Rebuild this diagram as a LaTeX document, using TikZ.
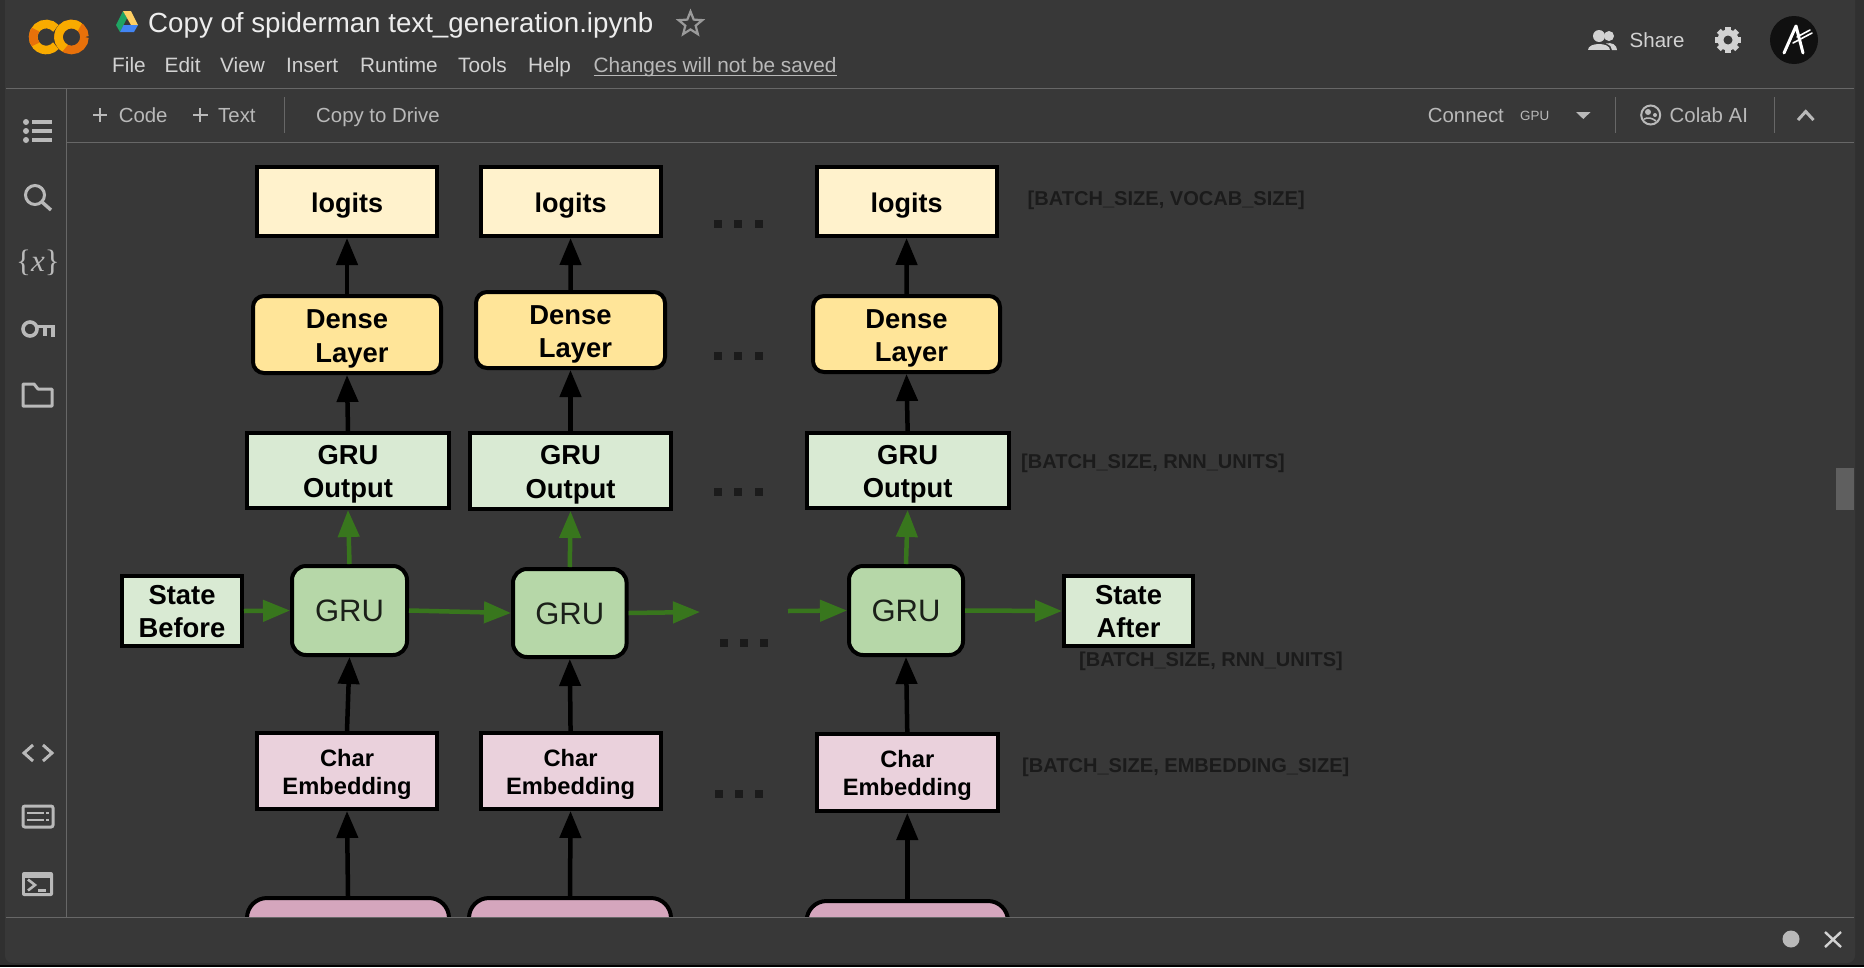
\documentclass[tikz,border=0pt]{standalone}
\usepackage{fontspec}
\setmainfont{Liberation Sans}
\newfontfamily\serifui{Liberation Serif}
\usetikzlibrary{arrows.meta,shapes.geometric}
\definecolor{winbg}{HTML}{383838}
\definecolor{outbg}{HTML}{303030}
\definecolor{rulec}{HTML}{676767}
\definecolor{uic}{HTML}{B9B9B9}
\definecolor{menuc}{HTML}{D2D2D2}
\definecolor{titlec}{HTML}{EDEDED}
\definecolor{lgtc}{HTML}{FFF2CC}
\definecolor{dnsc}{HTML}{FFE599}
\definecolor{outc}{HTML}{D9EAD3}
\definecolor{gruc}{HTML}{B6D7A8}
\definecolor{chrc}{HTML}{EAD1DC}
\definecolor{inpc}{HTML}{D5A6BD}
\definecolor{grn}{HTML}{38761D}
\definecolor{labc}{HTML}{1B1B1B}
\definecolor{ylw}{HTML}{F9AB00}
\definecolor{org}{HTML}{E8710A}
\definecolor{drg}{HTML}{1FA463}
\definecolor{dry}{HTML}{FFCF63}
\definecolor{drb}{HTML}{4285F4}
\definecolor{avc}{HTML}{101010}
\definecolor{scrc}{HTML}{5F5F5F}
\definecolor{starc}{HTML}{9A9A9A}
\def\txtshv{0pt}
\tikzset{
  x=1pt,y=-1pt,
  txtsh/.store in=\txtshv,
  boxbase/.style={draw=black,line width=4pt,inner sep=0pt,text=black,txtsh=0pt},
  lgt/.style={boxbase,fill=lgtc,txtsh=4.6pt,font=\fontsize{27}{33}\selectfont\bfseries},
  dns/.style={boxbase,fill=dnsc,rounded corners=11pt,txtsh=4.2pt,font=\fontsize{27.4}{33.4}\selectfont\bfseries},
  gout/.style={boxbase,fill=outc,txtsh=3.7pt,font=\fontsize{27.4}{33.4}\selectfont\bfseries},
  stt/.style={gout,txtsh=3.2pt},
  gru/.style={boxbase,fill=gruc,rounded corners=14pt,text=black!85!gruc,txtsh=4pt,font=\fontsize{31}{36}\selectfont},
  chr/.style={boxbase,fill=chrc,txtsh=3.4pt,font=\fontsize{23.7}{28}\selectfont\bfseries},
  inp/.style={boxbase,fill=inpc,rounded corners=20pt},
  arr/.style={draw=black,line width=4.5pt,-{Triangle[width=21pt,length=27pt]}},
  garr/.style={draw=grn,line width=4.5pt,-{Triangle[width=21pt,length=27pt]}},
  shapelab/.style={anchor=west,inner sep=0pt,text=labc,font=\fontsize{20.05}{24}\selectfont\bfseries},
  uitext/.style={anchor=base west,inner sep=0pt,text=uic,font=\fontsize{20.4}{25}\selectfont},
  menutext/.style={anchor=base west,inner sep=0pt,text=menuc,font=\fontsize{20.8}{25}\selectfont},
  dotsq/.style={fill=labc,draw=none},
  ico/.style={draw=uic,line width=3pt,fill=none},
  rulel/.style={draw=rulec,line width=1pt},
}
% name, style, outer x0,y0,x1,y1, text
\newcommand{\bx}[7]{%
  \pgfmathsetmacro{\bxcx}{(#3+#5)/2}\pgfmathsetmacro{\bxcy}{(#4+#6)/2}%
  \pgfmathsetmacro{\bxw}{#5-#3-4}\pgfmathsetmacro{\bxh}{#6-#4-4}%
  \node[#2,minimum width=\bxw pt,minimum height=\bxh pt] (#1) at (\bxcx,\bxcy)
    {\raisebox{-\txtshv}[\height][\depth]{\begin{tabular}{@{}c@{}}#7\end{tabular}}};}
\newcommand{\threedots}[4]{% x1 x2 x3 y
  \foreach \dx in {#1,#2,#3}{\fill[dotsq] (\dx,#4-4) rectangle (\dx+8,#4+4);}}
\begin{document}
\begin{tikzpicture}
\useasboundingbox (0,0) rectangle (1864,967);
\fill[outbg] (0,0) rectangle (1864,967);
\fill[winbg,rounded corners=8pt] (5,-10) rectangle (1855,963);
\fill[black] (0,965) rectangle (1864,967);

% ---- diagram boxes
\bx{lg1}{lgt}{255}{165}{439}{238}{logits}
\bx{lg2}{lgt}{478.6}{165}{662.5}{238}{logits}
\bx{lg3}{lgt}{814.6}{165}{998.6}{238}{logits}
\bx{dn1}{dns}{251}{294}{443}{375}{Dense\\\hspace*{10pt}Layer}
\bx{dn2}{dns}{474}{290}{667}{370}{Dense\\\hspace*{10pt}Layer}
\bx{dn3}{dns}{811}{294}{1002}{374}{Dense\\\hspace*{10pt}Layer}
\bx{go1}{gout}{245}{431}{451}{510}{GRU\\Output}
\bx{go2}{gout}{468}{431}{673}{511}{GRU\\Output}
\bx{go3}{gout}{804.6}{431}{1010.7}{510}{GRU\\Output}
\bx{gr1}{gru}{290}{564}{409}{657}{GRU}
\bx{gr2}{gru}{511}{567}{628.6}{659}{GRU}
\bx{gr3}{gru}{847}{564}{965}{657}{GRU}
\bx{sb}{stt}{120}{574}{244}{648}{State\\Before}
\bx{sa}{stt}{1062}{574}{1195}{648}{State\\After}
\bx{ch1}{chr}{255}{731}{439}{811}{Char\\Embedding}
\bx{ch2}{chr}{478.6}{731}{662.5}{811}{Char\\Embedding}
\bx{ch3}{chr}{814.6}{732}{1000}{813}{Char\\Embedding}
\bx{in1}{inp}{245}{896}{451}{950}{}
\bx{in2}{inp}{467}{896}{673}{950}{}
\bx{in3}{inp}{804.6}{899}{1010}{950}{}

% ---- connectors
\coordinate (gapa) at (700,612);
\coordinate (gapb) at (788,611);
\foreach \c in {1,2,3}{
  \draw[arr] (dn\c.north) -- (lg\c.south);
  \draw[arr] (go\c.north) -- (dn\c.south);
  \draw[garr] (gr\c.north) -- (go\c.south);
  \draw[arr] (ch\c.north) -- (gr\c.south);
  \draw[arr] (in\c.north) -- (ch\c.south);
}
\draw[garr] (sb.east) -- (gr1.west);
\draw[garr] (gr1.east) -- (gr2.west);
\draw[garr] (gr2.east) -- (gapa);
\draw[garr] (gapb) -- (gr3.west);
\draw[garr] (gr3.east) -- (sa.west);

% ---- ellipses
\threedots{714}{734}{755}{224}
\threedots{714}{734}{755}{356}
\threedots{714}{734}{755}{492}
\threedots{720}{740}{760}{643}
\threedots{715}{735}{755}{794}

% ---- shape labels
\node[shapelab] (l1) at (1027.5,200.4) {[BATCH\_SIZE, VOCAB\_SIZE]};
\node[shapelab] (l2) at (1021,463.5) {[BATCH\_SIZE, RNN\_UNITS]};
\node[shapelab] (l3) at (1079,661.5) {[BATCH\_SIZE, RNN\_UNITS]};
\node[shapelab] (l4) at (1022,767) {[BATCH\_SIZE, EMBEDDING\_SIZE]};

% ---- scrollbar
\fill[scrc] (1836,468) rectangle (1854,510);

% ---- covers and chrome
\fill[winbg,rounded corners=8pt] (5,918) rectangle (1855,963);
\fill[winbg] (5,918) rectangle (1855,930);
\draw[rulel] (6,88) -- (1854,88);
\draw[rulel] (66.7,142) -- (1854,142);
\draw[rulel] (66.7,88) -- (66.7,917);
\draw[rulel] (6,917) -- (1854,917);
\draw[rulel] (284,97) -- (284,133);
\draw[rulel] (1615.5,97) -- (1615.5,133);
\draw[rulel] (1774,97) -- (1774,133);

% logo
\draw[org,line width=8.6pt] (71.5,37) ++(0:13) arc[start angle=0,end angle=360,radius=13];
\draw[ylw,line width=8.6pt] (71.5,37) ++(-50:13) arc[start angle=-50,end angle=-240,radius=13];
\draw[ylw,line width=8.6pt] (46.2,37) ++(-42:13) arc[start angle=-42,end angle=-318,radius=13];
\draw[org,line width=8.6pt] (46.2,37) ++(-145:13) arc[start angle=-145,end angle=-215,radius=13];
% drive icon
\fill[drg] (123,11) -- (127,18) -- (120,32) -- (116,25) -- cycle;
\fill[dry] (123,11) -- (131,11) -- (138,25) -- (131,25) -- cycle;
\fill[drb] (120,32) -- (134,32) -- (138,25) -- (123.5,25) -- cycle;

% title and menu
\node[anchor=base west,inner sep=0pt,text=titlec,font=\fontsize{27.7}{32}\selectfont] (ttl) at (148,32) {Copy of spiderman text\_generation.ipynb};
\node[star,star points=5,star point ratio=2.3,draw=starc,line width=2.2pt,minimum size=25pt,inner sep=0pt] (str) at (690.5,24) {};
\node[menutext] (m1) at (112,72) {File};
\node[menutext] (m2) at (164.5,72) {Edit};
\node[menutext] (m3) at (220,72) {View};
\node[menutext] (m4) at (286,72) {Insert};
\node[menutext] (m5) at (360,72) {Runtime};
\node[menutext] (m6) at (458,72) {Tools};
\node[menutext] (m7) at (528,72) {Help};
\node[uitext,font=\fontsize{20.8}{25}\selectfont] (chg) at (593.5,72) {Changes will not be saved};
\draw[uic,line width=1.4pt] ([yshift=-3.5pt]chg.base west) -- ([yshift=-3.5pt]chg.base east);

% toolbar
\draw[uic,line width=2pt] (93,115) -- (107,115) (100,108) -- (100,122);
\node[uitext] (tc) at (118.6,122) {Code};
\draw[uic,line width=2pt] (193,115) -- (207.6,115) (200.3,108) -- (200.3,122);
\node[uitext] (tt) at (218,122) {Text};
\node[uitext] (td) at (316,122) {Copy to Drive};
\node[uitext] (tn) at (1427.7,122) {Connect};
\node[uitext,font=\fontsize{13.4}{17}\selectfont] (tg) at (1520,120.5) {GPU};
\fill[uic] (1576,112) -- (1590.6,112) -- (1583.3,119) -- cycle;
% colab ai icon
\draw[uic,line width=2pt] (1650.7,115) circle[radius=9.5];
\fill[uic] (1648,112) circle[radius=3];
\fill[uic] (1655,115) circle[radius=2];
\draw[uic,line width=1.6pt] (1644,119) .. controls (1648,117) and (1652,118) .. (1656,121);
\node[uitext] (tz) at (1669.5,122) {Colab AI};
\draw[uic,line width=3pt] (1798,120) -- (1805.7,111.5) -- (1813.5,120);

% share, gear, avatar
\fill[menuc] (1609,36) circle[radius=5];
\fill[menuc] (1599,36) circle[radius=6];
\fill[menuc] (1588,50) .. controls (1588,42) and (1610,42) .. (1610,50) -- cycle;
\fill[menuc] (1606,43.5) .. controls (1612,42) and (1617,45) .. (1617,50) -- (1612,50) .. controls (1612,47) and (1610,45) .. (1606,43.5) -- cycle;
\node[menutext,font=\fontsize{20.5}{25}\selectfont] (sh) at (1629.5,47) {Share};
\foreach \a in {0,45,...,315}{\draw[menuc,line width=5.5pt] (1728,40) -- ++(\a:13);}
\fill[menuc] (1728,40) circle[radius=10.5];
\fill[winbg] (1728,40) circle[radius=4.5];
\fill[avc] (1794,40) circle[radius=24];
\draw[white,line width=3pt,line cap=round,line join=round] (1784,53) -- (1796,26) -- (1803,53);
\draw[white,line width=1.6pt,line cap=round] (1793,43) -- (1812,33) (1797,37) -- (1810,30);

% sidebar icons
\foreach \yy in {122,131,140}{\fill[uic] (26,\yy) circle[radius=3];\fill[uic] (32,\yy-1.6) rectangle (52,\yy+1.6);}
\draw[ico] (35,195) circle[radius=9.5];
\draw[ico,line width=3.4pt] (42,202) -- (51,210);
\node[text=uic,inner sep=0pt,font=\fontsize{31}{33}\selectfont\serifui] (vr) at (38,262.5) {\{\textit{x}\}};
\draw[ico,line width=3.6pt] (30,329) circle[radius=7];
\draw[ico,line width=3.6pt] (37.5,326.5) -- (53,326.5) -- (53,337);
\draw[ico,line width=3.6pt] (45,326.5) -- (45,336);
\draw[ico,line join=round] (23,406) -- (23,384) -- (34,384) -- (38,389) -- (52,389) -- (52,406) -- cycle;
\draw[ico,line width=3pt] (33,745) -- (24,753) -- (33,761);
\draw[ico,line width=3pt] (43,745) -- (52,753) -- (43,761);
\draw[ico,rounded corners=2pt] (23,806) rectangle (53,827);
\draw[uic,line width=2.4pt] (27,813) -- (44,813) (27,820) -- (44,820) (46,813) -- (49,813) (46,820) -- (49,820);
\fill[uic,rounded corners=2pt] (22,872) rectangle (53,896);
\fill[winbg] (25,878) rectangle (50,893);
\draw[uic,line width=2.6pt] (28,879.5) -- (35,885) -- (28,890.5);
\draw[uic,line width=2.2pt] (38,890.5) -- (46,890.5);

% status bar icons
\fill[uic] (1791,939) circle[radius=8.5];
\draw[menuc,line width=2.4pt] (1825,932) -- (1841,947) (1841,932) -- (1825,947);
\end{tikzpicture}
\end{document}
